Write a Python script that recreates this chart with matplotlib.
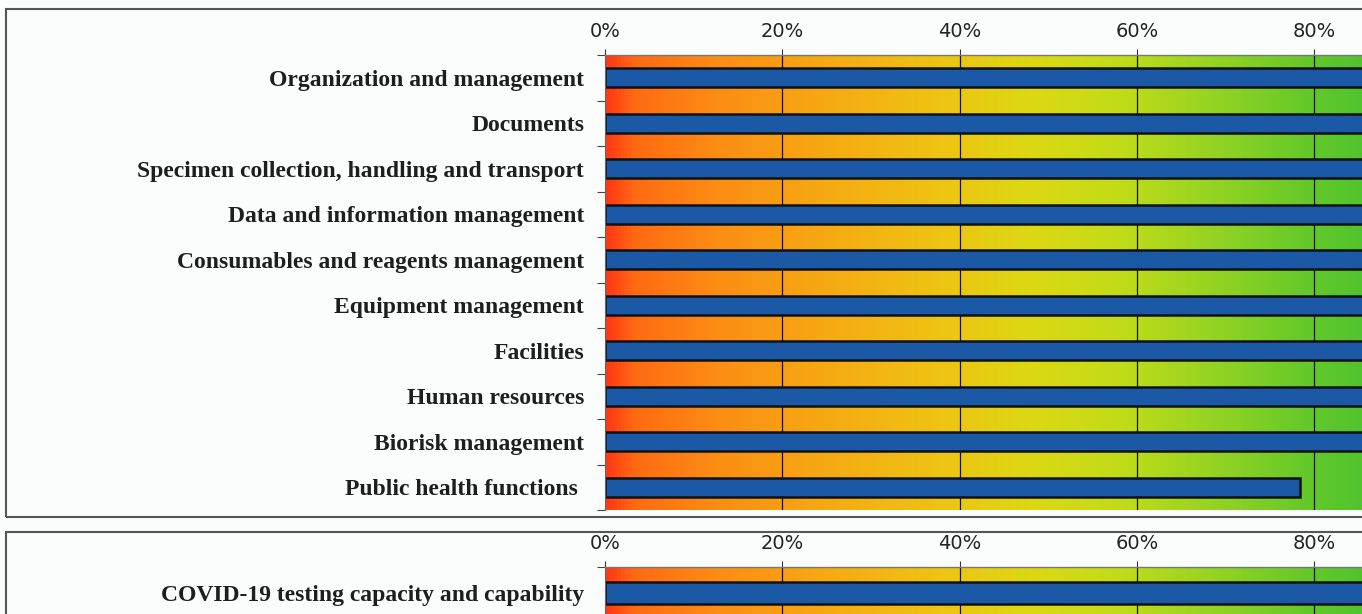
import numpy as np
import matplotlib
matplotlib.use("Agg")
import matplotlib.pyplot as plt
from matplotlib.colors import LinearSegmentedColormap
from matplotlib.patches import Rectangle

# data (percent of points scored)
categories = [
    "Organization and management",
    "Documents",
    "Specimen collection, handling and transport",
    "Data and information management",
    "Consumables and reagents management",
    "Equipment management",
    "Facilities",
    "Human resources",
    "Biorisk management",
    "Public health functions ",
]
scores = [100, 100, 100, 100, 100, 100, 100, 100, 100, 78.4]

covid_categories = ["COVID-19 testing capacity and capability"]
covid_scores = [100]

x_ticks = [0, 20, 40, 60, 80]
x_ticklabels = ["0%", "20%", "40%", "60%", "80%"]

W, H = 1362, 614
grad = LinearSegmentedColormap.from_list("score", [
    (0.00, "#ff3a12"),
    (0.03, "#ff6a12"),
    (0.12, "#fc8c14"),
    (0.25, "#f6aa12"),
    (0.38, "#eec412"),
    (0.48, "#dcd812"),
    (0.58, "#c2dc18"),
    (0.68, "#98d422"),
    (0.80, "#62c82a"),
    (0.90, "#44c030"),
    (1.00, "#30b834"),
])

label_font = dict(family="Liberation Serif", weight="bold", size=17)
tick_font = dict(family="DejaVu Sans", size=14)


def px_axes(fig, left, top, right, bottom):
    return fig.add_axes([left / W, 1 - bottom / H, (right - left) / W, (bottom - top) / H])


def draw_panel(ax, labels, values):
    n = len(labels)
    ax.set_xlim(0, 100)
    ax.set_ylim(n, 0)
    ax.imshow(np.linspace(0, 1, 256).reshape(1, -1), cmap=grad, aspect="auto",
              extent=[0, 100, n, 0], zorder=0, interpolation="bilinear")
    for x in x_ticks[1:] + [100]:
        ax.axvline(x, color="#111111", lw=0.9, zorder=1)
    y = np.arange(n) + 0.5
    ax.barh(y, values, height=0.42, color="#1b58a6", edgecolor="#111111",
            linewidth=1.8, zorder=2)

    # category labels at bar centres, small ticks at the row borders
    ax.set_yticks(np.arange(n + 1))
    ax.set_yticklabels([])
    ax.set_yticks(y, minor=True)
    ax.set_yticklabels(labels, minor=True, fontdict=label_font, color="#1e1e1e")
    ax.tick_params(axis="y", which="major", length=6, width=0.8, color="#444444")
    ax.tick_params(axis="y", which="minor", length=0, pad=15)

    ax.xaxis.tick_top()
    ax.set_xticks(x_ticks)
    ax.set_xticklabels(x_ticklabels, fontdict=tick_font, color="#222222")
    ax.tick_params(axis="x", length=4, width=0.8, pad=6, color="#333333")

    for s in ["right", "bottom"]:
        ax.spines[s].set_visible(False)
    ax.spines["left"].set_color("#666666")
    ax.spines["left"].set_linewidth(0.8)
    ax.spines["top"].set_color("#777777")
    ax.spines["top"].set_linestyle((0, (1, 1)))
    ax.spines["top"].set_linewidth(1.0)


fig = plt.figure(figsize=(W / 100, H / 100), dpi=100, facecolor="#fbfdfd")

# panel frames
fig.patches.append(Rectangle((6 / W, 1 - 517 / H), 1500 / W, 508 / H,
                             transform=fig.transFigure, fill=False,
                             edgecolor="#555555", lw=1.5))
fig.patches.append(Rectangle((6 / W, 1 - 700 / H), 1500 / W, 168 / H,
                             transform=fig.transFigure, fill=False,
                             edgecolor="#555555", lw=1.5))

ax1 = px_axes(fig, 605, 55, 1491.5, 510)
draw_panel(ax1, categories, scores)

ax2 = px_axes(fig, 605, 567, 1491.5, 619)
draw_panel(ax2, covid_categories, covid_scores)

fig.savefig("out.png", dpi=100, facecolor=fig.get_facecolor())
